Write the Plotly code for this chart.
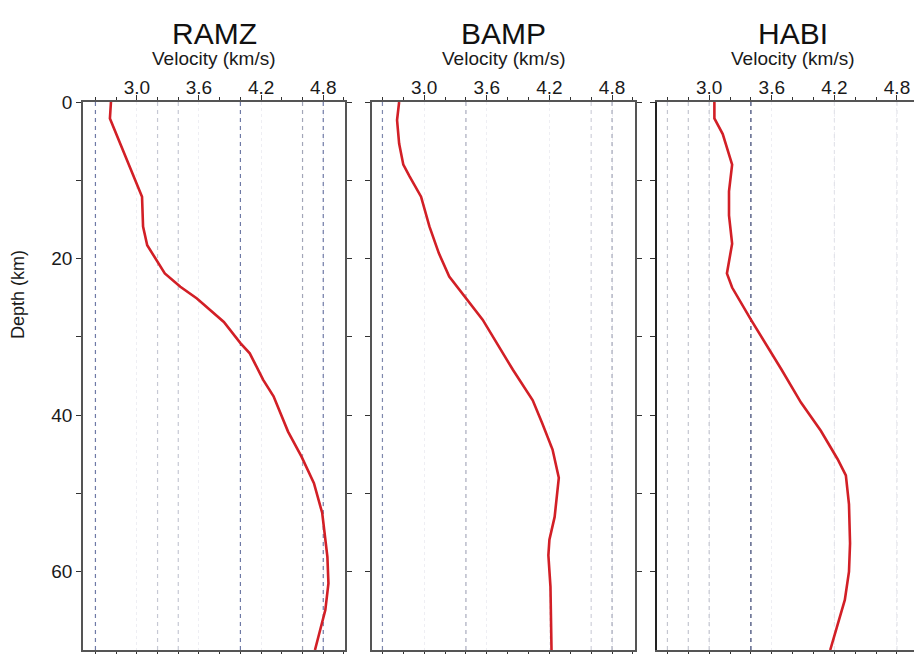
import plotly.graph_objects as go

# ---------------- data ----------------
stations = ["RAMZ", "BAMP", "HABI"]

ramz_depth = [0, 2.1, 12.1, 15.9, 18.3, 21.9, 23.6, 25.1, 28.1, 30.8, 32.1, 35.5, 37.6, 42.1, 45.3, 48.7, 52.5, 58.1, 61.5, 64.9, 70]
ramz_vel = [2.75, 2.74, 3.05, 3.06, 3.10, 3.27, 3.42, 3.58, 3.84, 4.00, 4.09, 4.22, 4.32, 4.46, 4.59, 4.71, 4.79, 4.84, 4.85, 4.82, 4.72]

bamp_depth = [0, 2.3, 5.3, 8.0, 9.5, 12.1, 15.9, 19.3, 22.3, 25.1, 27.8, 34.2, 38.1, 41.0, 44.4, 48.0, 53.0, 55.9, 57.9, 61.9, 70]
bamp_vel = [2.76, 2.74, 2.76, 2.80, 2.86, 2.97, 3.05, 3.14, 3.24, 3.40, 3.56, 3.85, 4.04, 4.13, 4.23, 4.29, 4.25, 4.20, 4.19, 4.21, 4.22]

habi_depth = [0, 2.1, 4.1, 8.0, 11.4, 14.5, 18.1, 21.9, 23.7, 27.8, 34.1, 38.4, 42.0, 45.6, 47.7, 51.4, 56.4, 60.0, 63.6, 70]
habi_vel = [3.05, 3.05, 3.13, 3.22, 3.19, 3.19, 3.22, 3.17, 3.22, 3.40, 3.69, 3.88, 4.07, 4.23, 4.31, 4.34, 4.35, 4.34, 4.30, 4.16]

# reference velocities (dashed vertical lines) per station
ramz_refs = [2.6, 3.2, 3.4, 4.0, 4.6, 4.8]
bamp_refs = [2.6, 3.4, 4.6, 4.8]
habi_refs = [2.6, 2.8, 3.0, 3.4, 4.2, 4.8]

top_tick_vals = [3.0, 3.6, 4.2, 4.8]
top_tick_text = ["3.0", "3.6", "4.2", "4.8"]
depth_tick_vals = [0, 10, 20, 30, 40, 50, 60]
depth_tick_text = ["0", "", "20", "", "40", "", "60"]

# ---------------- styles ----------------
ref_styles = {
    "RAMZ": ["#6f7aa6", "#c6c8d4", "#c6c8d4", "#6f7aa6", "#a3a6b8", "#6f7aa6"],
    "BAMP": ["#7f89ad", "#a8abbd", "#cfd0da", "#a3a6b8"],
    "HABI": ["#c4c6d0", "#c4c6d0", "#c4c6d0", "#34406e", "#e3e4ea", "#e3e4ea"],
}

W, H = 914, 654
px_dom = [(83, 345), (372, 635), (657, 914)]
x_ranges = [(2.48, 5.01), (2.5, 5.02), (2.5, 4.963)]
y_top_px, y_bot_px = 102, 650
y_dom = [1 - y_bot_px / H, 1 - y_top_px / H]

FONT = "Liberation Sans, Arial, sans-serif"
AX_COLOR = "#555555"
CURVE = "#d21f26"
TICK_SIZE = 19

fig = go.Figure()

series = [(ramz_depth, ramz_vel, ramz_refs), (bamp_depth, bamp_vel, bamp_refs), (habi_depth, habi_vel, habi_refs)]

layout = dict(
    width=W, height=H,
    margin=dict(l=0, r=0, t=0, b=0, autoexpand=False),
    paper_bgcolor="white", plot_bgcolor="white",
    showlegend=False,
    font=dict(family=FONT, color="#1a1a1a"),
)

annotations = []
for i, (st, (dep, vel, refs)) in enumerate(zip(stations, series)):
    n = i + 1
    xb = f"x{n}" if n > 1 else "x"          # bottom axis (data)
    xt = f"x{n + 3}"                         # top labelled axis
    yk = f"y{n}" if n > 1 else "y"
    dom = [px_dom[i][0] / W, px_dom[i][1] / W]
    rng = list(x_ranges[i])

    # dashed reference lines
    for v, col in zip(refs, ref_styles[st]):
        fig.add_trace(go.Scatter(x=[v, v], y=[0, 70], mode="lines",
                                 line=dict(color=col, width=1.2, dash="4px,4px"),
                                 xaxis=xb, yaxis=yk, hoverinfo="skip"))
    # velocity profile
    fig.add_trace(go.Scatter(x=vel, y=dep, mode="lines",
                             line=dict(color=CURVE, width=2.6),
                             xaxis=xb, yaxis=yk, name=st))
    # invisible trace to anchor the top axis
    fig.add_trace(go.Scatter(x=vel, y=dep, mode="none", xaxis=xt, yaxis=yk, hoverinfo="skip"))

    axb = "xaxis" if n == 1 else f"xaxis{n}"
    axt = f"xaxis{n + 3}"
    ay = "yaxis" if n == 1 else f"yaxis{n}"

    layout[axb] = dict(domain=dom, range=rng, anchor=yk, side="bottom", automargin=False,
                       showline=True, linecolor=AX_COLOR, linewidth=1.5,
                       ticks="outside", ticklen=5, tickwidth=1.2, tickcolor="#333",
                       tickmode="linear", tick0=2.6, dtick=0.2,
                       showticklabels=False, showgrid=False, zeroline=False)
    layout[axt] = dict(overlaying=xb, range=rng, anchor=yk, side="top", automargin=False,
                       showline=True, linecolor=AX_COLOR, linewidth=1.5,
                       ticks="outside", ticklen=5, tickwidth=1.2, tickcolor="#333",
                       tickvals=top_tick_vals, ticktext=top_tick_text,
                       ticklabelstandoff=-6,
                       tickfont=dict(size=TICK_SIZE, family=FONT, color="#1a1a1a"),
                       minor=dict(ticks="outside", ticklen=3, tickwidth=1, tickcolor="#333",
                                  tickmode="linear", tick0=2.6, dtick=0.2, showgrid=False),
                       showgrid=True, gridcolor="#eeeef3", griddash="dot", gridwidth=1,
                       zeroline=False)
    layout[ay] = dict(domain=y_dom, range=[70, 0], anchor=xb, automargin=False,
                      showline=True, linecolor=AX_COLOR if n < 3 else "#222", linewidth=1.5,
                      mirror="ticks" if n < 3 else False,
                      ticks="outside", ticklen=5, tickwidth=1.2, tickcolor="#333",
                      tickvals=depth_tick_vals, ticktext=depth_tick_text,
                      showticklabels=(n == 1),
                      tickfont=dict(size=TICK_SIZE, family=FONT, color="#1a1a1a"),
                      showgrid=False, zeroline=False)

    cx = (dom[0] + dom[1]) / 2 if n < 3 else (px_dom[i][0] + 136) / W
    annotations.append(dict(text=st, x=cx, y=1 - 33 / H, xref="paper", yref="paper",
                            showarrow=False, xanchor="center", yanchor="middle",
                            font=dict(size=30, family=FONT, color="#111")))
    annotations.append(dict(text="Velocity (km/s)", x=cx, y=1 - 59 / H, xref="paper", yref="paper",
                            showarrow=False, xanchor="center", yanchor="middle",
                            font=dict(size=19, family=FONT, color="#1a1a1a")))

annotations.append(dict(text="Depth (km)", x=18 / W, y=1 - 295 / H, xref="paper", yref="paper",
                        showarrow=False, textangle=-90, xanchor="center", yanchor="middle",
                        font=dict(size=18, family=FONT, color="#1a1a1a")))
layout["annotations"] = annotations

fig.update_layout(**layout)
fig.write_html("out.html")
